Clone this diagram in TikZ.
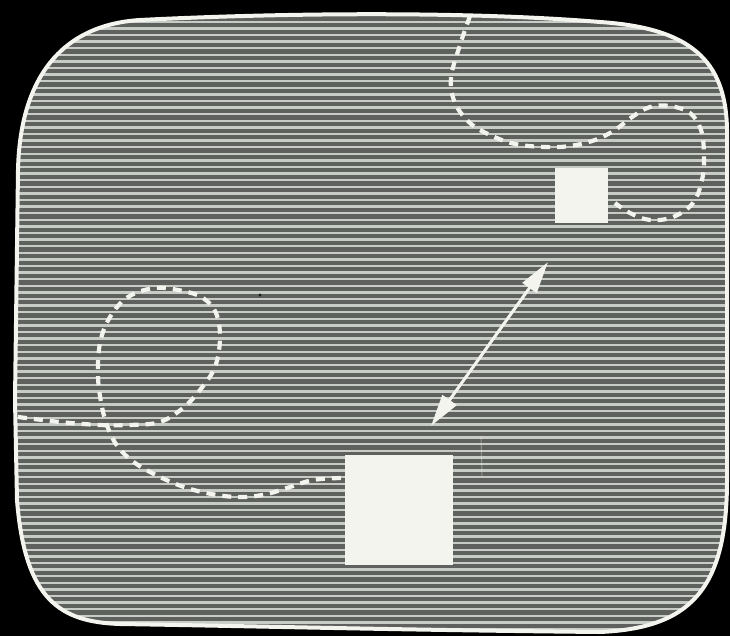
\documentclass[tikz,border=0pt]{standalone}
\usetikzlibrary{arrows.meta}
\definecolor{crtbg}{HTML}{5E615E}
\definecolor{crtline}{HTML}{C8CCC6}
\definecolor{glow}{HTML}{F4F4EE}
\tikzset{
  trace/.style={draw=glow, line width=4.2pt, dash pattern=on 9pt off 7pt},
  blip/.style={fill=glow, draw=none, inner sep=0pt},
  scan/.style={draw=crtline, line width=2.4pt},
  bezel/.style={draw=glow, line width=4pt},
  pointer/.style={draw=glow, line width=3pt, {Triangle[length=32pt,width=17pt]}-{Triangle[length=32pt,width=17pt]}}
}
\begin{document}
\begin{tikzpicture}[x=1pt,y=-1pt]
\fill[black] (0,0) rectangle (730,636);
\useasboundingbox (0,0) rectangle (730,636);
\def\screenpath{(18,170) .. controls (20,80) and (60,25) .. (140,20)
  .. controls (300,12) and (480,12) .. (600,22)
  .. controls (690,28) and (726,60) .. (727,130)
  -- (727,480)
  .. controls (727,590) and (690,628) .. (600,632)
  .. controls (400,630) and (250,626) .. (120,624)
  .. controls (60,622) and (25,600) .. (17,500)
  -- (15,400) -- cycle}
\begin{scope}
  \clip \screenpath;
  \fill[crtbg] (0,0) rectangle (730,636);
  \foreach \i in {0,...,96} {
    \draw[scan] (0,\i*6.6+2) -- (730,\i*6.6+2);
  }
\end{scope}
\draw[bezel] \screenpath;
% small square and large square
\node[blip, minimum width=53pt, minimum height=55pt] (small) at (581.5,195.5) {};
\node[blip, minimum width=108pt, minimum height=110pt] (big) at (399,510) {};
% double arrow
\coordinate (aTop) at (548,262);
\coordinate (aBot) at (431,426);
\draw[pointer] (aBot) -- (aTop);
% dashed traces
\draw[trace] plot[smooth, tension=0.6] coordinates {
  (470,16) (460,45) (451,78) (455,103) (470,123) (490,135) (515,144)
  (545,147) (570,146) (595,140) (615,130) (632,117) (650,107) (670,106)
  (690,113) (701,130) (704,155) (702,180) (693,203) (673,217) (650,220)
  (630,213) (615,203)};
\draw[trace] plot[smooth, tension=0.6] coordinates {
  (18,417) (60,422) (100,425) (130,425) (160,422) (183,408) (200,390)
  (215,367) (220,338) (216,313) (203,298) (183,291) (155,288) (128,297)
  (110,317) (100,343) (98,377) (102,407) (108,428) (118,447) (135,463)
  (160,477) (187,488) (217,495) (243,497) (267,494) (290,487) (313,480)
  (341,478)};
% faint artefacts
\coordinate (f1) at (481,436);
\coordinate (f2) at (482,476);
\draw[glow, opacity=0.35, line width=1pt] (f1) -- (f2);
\fill[black, opacity=0.7] (260,295) circle (1.6pt);
\end{tikzpicture}
\end{document}
